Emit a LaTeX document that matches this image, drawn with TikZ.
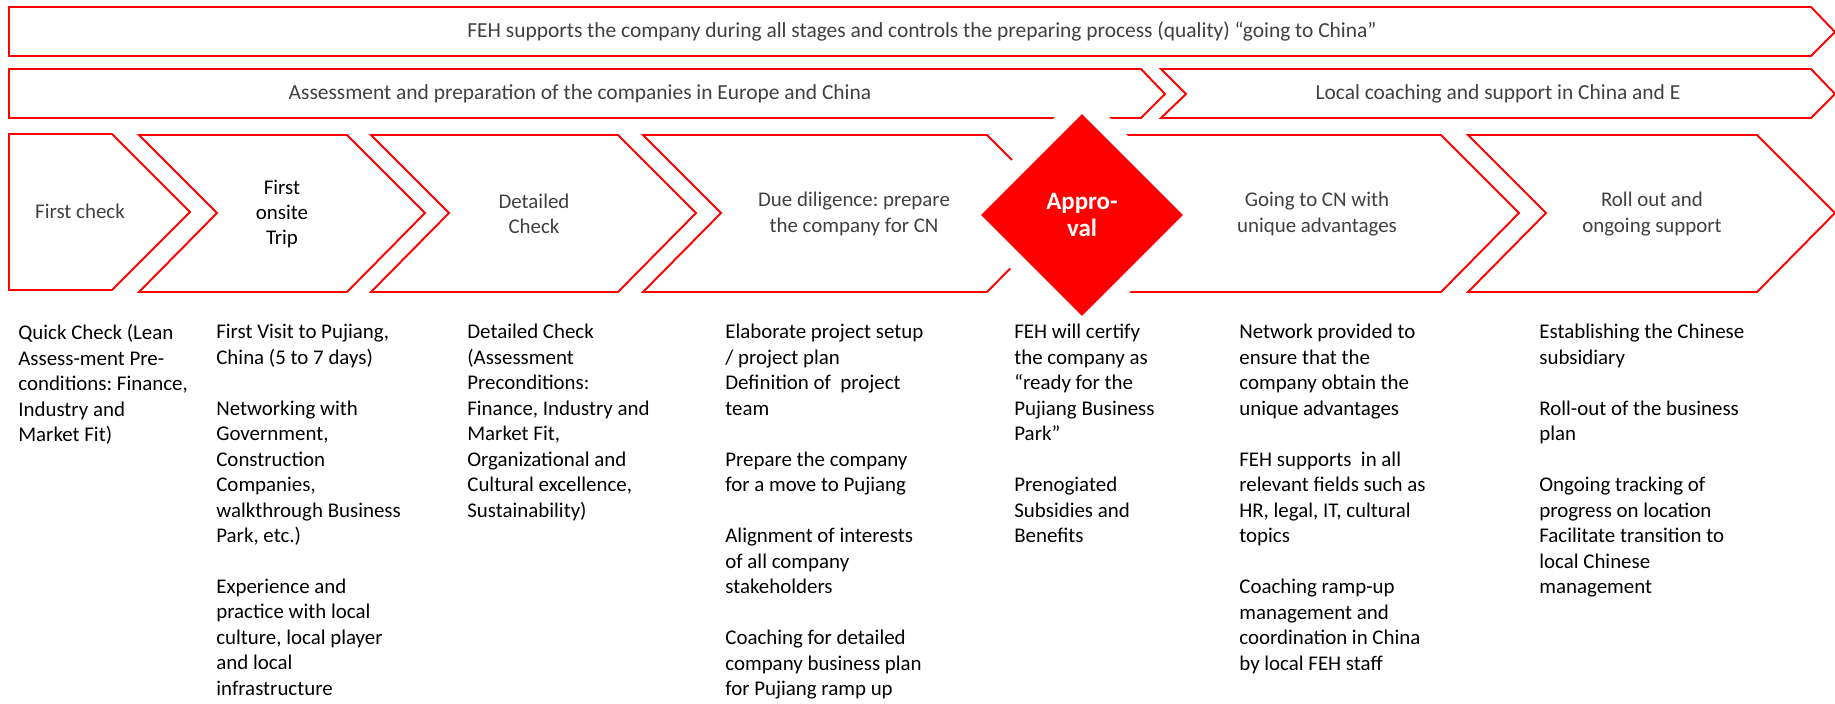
\documentclass[tikz,border=0pt]{standalone}
\usepackage{fontspec}
\setmainfont{Carlito}
\usepackage{xcolor}
\definecolor{fehred}{RGB}{255,0,0}
\definecolor{fehgray}{RGB}{64,64,64}
\usepackage{tikz}
\usetikzlibrary{shapes.geometric,positioning}
\frenchspacing
\newcommand{\bodyfont}{\fontsize{11.9}{14.5}\selectfont}
\newcommand{\bannerfont}{\fontsize{12.2}{14.5}\selectfont}
\tikzstyle{chev} = [draw=fehred, line width=1.1pt, line join=miter, fill=white]
\tikzstyle{bannertext} = [text=fehgray, font=\bannerfont, inner sep=0pt]
\tikzstyle{steplabel} = [text=fehgray, font=\bodyfont, align=center, inner sep=0pt]
\tikzstyle{desc} = [anchor=north west, align=left, font=\bodyfont, inner sep=0pt,
    execute at begin node=\strut]
\tikzstyle{halo} = [diamond, fill=white, inner sep=0pt, minimum width=5cm, minimum height=5cm]
\tikzstyle{approval} = [diamond, fill=fehred, text=white, inner sep=0pt,
    minimum width=4.04cm, minimum height=4.04cm, align=center,
    font=\fontsize{14.2}{15.9}\selectfont\bfseries]

\begin{document}
\begin{tikzpicture}[x=0.02cm, y=-0.02cm]
\useasboundingbox (0,0) rectangle (1835,703);
% banners
\draw[chev] (9,7) -- (1811,7) -- (1835,32) -- (1811,56) -- (9,56) -- cycle;
\draw[chev] (9,69) -- (1141,69) -- (1165,94) -- (1141,118) -- (9,118) -- cycle;
\draw[chev] (1161,69) -- (1811,69) -- (1835,94) -- (1811,118) -- (1161,118) -- (1186,94) -- cycle;
\node[bannertext] (feh) at (922,32) {FEH supports the company during all stages and controls the preparing process (quality) “going to China”};
\node[bannertext] (assess) at (580,94) {Assessment and preparation of the companies in Europe and China};
\node[bannertext] (local) at (1498,94) {Local coaching and support in China and E};

% chevrons
\draw[chev] (9,134) -- (112,134) -- (190,212) -- (112,290) -- (9,290) -- cycle;
\foreach \l/\r in {139/347, 371/618, 643/987, 1060/1441, 1468/1757}
  \draw[chev] (\l,135) -- (\r,135) -- ++(78,78) -- (\r,292) -- (\l,292) -- ++(78,-79) -- cycle;
\node[steplabel] (s1) at (80,211) {First check};
\node[steplabel, text=black] (s2) at (282,214) {First\\onsite\\Trip};
\node[steplabel] (s3) at (534,214) {Detailed\\Check};
\node[steplabel] (s4) at (854,214) {Due diligence: prepare\\the company for CN};
\node[steplabel] (s5) at (1317,214) {Going to CN with\\unique advantages};
\node[steplabel] (s6) at (1652,214) {Roll out and\\ongoing support};

\node[halo] (apphalo) at (1082,215) {};
\node[approval] (app) at (1082,215) {Appro-\\val};

% descriptions
\node[desc] (d1) at (18,324) {Quick Check (Lean\\Assess-ment Pre-\\conditions: Finance,\\Industry and\\Market Fit)};
\node[desc] (d2) at (216,324) {First Visit to Pujiang,\\China (5 to 7 days)\\[14.5pt]
  Networking with\\Government,\\Construction\\Companies,\\walkthrough Business\\Park, etc.)\\[14.5pt]
  Experience and\\practice with local\\culture, local player\\and local\\infrastructure};
\node[desc] (d3) at (467,324) {Detailed Check\\(Assessment\\Preconditions:\\Finance, Industry and\\Market Fit,\\Organizational and\\Cultural excellence,\\Sustainability)};
\node[desc] (d4) at (725,324) {Elaborate project setup\\/ project plan\\Definition of~ project\\team\\[14.5pt]
  Prepare the company\\for a move to Pujiang\\[14.5pt]
  Alignment of interests\\of all company\\stakeholders\\[14.5pt]
  Coaching for detailed\\company business plan\\for Pujiang ramp up};
\node[desc] (d5) at (1014,324) {FEH will certify\\the company as\\“ready for the\\Pujiang Business\\Park”\\[14.5pt]
  Prenogiated\\Subsidies and\\Benefits};
\node[desc] (d6) at (1239,324) {Network provided to\\ensure that the\\company obtain the\\unique advantages\\[14.5pt]
  FEH supports~ in all\\relevant fields such as\\HR, legal, IT, cultural\\topics\\[14.5pt]
  Coaching ramp-up\\management and\\coordination in China\\by local FEH staff};
\node[desc] (d7) at (1539,324) {Establishing the Chinese\\subsidiary\\[14.5pt]
  Roll-out of the business\\plan\\[14.5pt]
  Ongoing tracking of\\progress on location\\Facilitate transition to\\local Chinese\\management};
\end{tikzpicture}
\end{document}
